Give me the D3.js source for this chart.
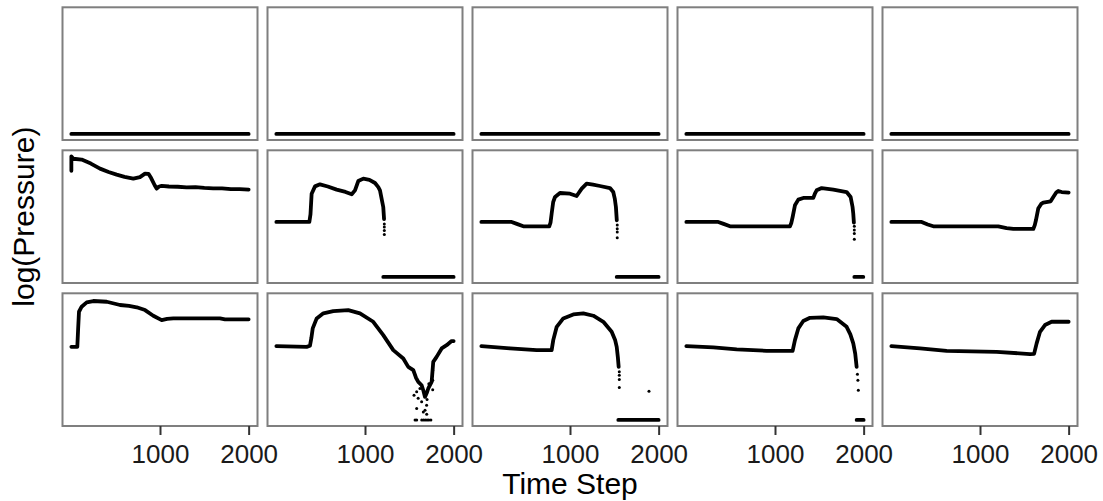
<!DOCTYPE html>
<html>
<head>
<meta charset="utf-8">
<script src="https://cdn.jsdelivr.net/npm/d3@7"></script>
<style>
  body { margin: 0; background: #fff; }
  svg { display: block; font-family: "Liberation Sans", Arial, sans-serif; }
</style>
</head>
<body>
<svg id="chart"></svg>
<script>
// x ticks shared by the bottom row
var timeTicks = [1000, 2000];

// flat "floor" value used by the empty top row and the collapsed tails
var fullFloor = [[0, 0], [2000, 0]];

// row 2 curves (time step, relative log pressure)
var r2c1 = [[0, 88], [0, 100], [22, 98], [116, 97.3], [220, 94], [323, 89.8], [420, 87], [511, 84.8],
    [600, 83], [699, 81.5], [774, 82.8], [831, 85.7], [870, 85.5], [900, 82], [940, 76], [962, 73.2],
    [990, 75], [1019, 75.5], [1100, 75], [1200, 74.8], [1300, 74.3], [1400, 74.5], [1500, 73.8],
    [1600, 73.5], [1700, 73.5], [1800, 72.8], [1900, 72.8], [2000, 72.4]];
var r2c2 = [[0, 45.6], [372, 45.6], [385, 52], [398, 69], [436, 75.1], [492, 76.8], [580, 75], [680, 72.4],
    [780, 70.5], [850, 68.5], [887, 71.8], [924, 79.5], [981, 81.5], [1050, 80.5], [1113, 77.9],
    [1150, 74.5], [1169, 71.8], [1190, 64], [1206, 58], [1215, 48]];
var r2c3 = [[0, 45.6], [342, 45.6], [400, 44], [473, 42], [766, 42], [780, 45], [793, 52.5], [810, 62],
    [831, 66.3], [887, 69.6], [1000, 69], [1075, 67.1], [1132, 73.2], [1188, 77.4], [1260, 76.5],
    [1338, 75.4], [1451, 73.7], [1488, 70.4], [1505, 65], [1518, 58], [1528, 47]];
var r2c4 = [[0, 45.6], [360, 45.6], [420, 44], [492, 42], [1169, 42], [1185, 45], [1199, 49.7], [1225, 59.4],
    [1263, 64.1], [1319, 65.5], [1432, 65.5], [1450, 69], [1470, 71.8], [1527, 73.7], [1658, 72.4],
    [1808, 70.4], [1853, 66.3], [1875, 58], [1883, 52.5], [1890, 45]];
var r2c5 = [[0, 45.6], [342, 45.6], [410, 43.5], [473, 42], [1206, 42], [1300, 40.5], [1376, 39.8],
    [1601, 39.8], [1618, 43], [1631, 47], [1657, 56.7], [1690, 60.5], [1714, 61.6], [1797, 62.7],
    [1827, 66.3], [1860, 70], [1883, 71.3], [1921, 70.4], [2000, 69.9]];

// row 3 curves
var r3c1 = [[0, 60.6], [67, 60.6], [76, 75], [86, 89.7], [116, 93.9], [173, 97.5], [248, 98.6], [399, 98],
    [549, 95.3], [650, 94.5], [737, 93.4], [831, 91.1], [924, 86.4], [1019, 82.8], [1080, 83.8],
    [1150, 84.2], [1677, 84.2], [1733, 83.4], [2000, 83.4]];
var r3c2 = [[0, 61.2], [342, 60.6], [379, 61.5], [395, 68], [410, 75.9], [455, 84.2], [530, 88.4],
    [642, 90.3], [811, 91.1], [943, 88.4], [1093, 81.4], [1206, 70.3], [1319, 57.9], [1432, 51],
    [1488, 44], [1545, 41.3], [1575, 35], [1601, 31.6], [1639, 28.8], [1660, 24], [1677, 19.1],
    [1700, 23], [1714, 26.1], [1752, 31.6], [1770, 48.2], [1808, 52.3], [1865, 59.3], [1921, 62],
    [1977, 65.4], [2000, 65.4]];
var r3c3 = [[0, 61.2], [323, 59.3], [624, 57.9], [793, 57.9], [811, 66.2], [850, 77.2], [924, 84.2],
    [1037, 87.5], [1150, 88.4], [1263, 86.4], [1376, 81.4], [1470, 73.1], [1510, 66], [1527, 60.6],
    [1540, 52], [1549, 44]];
var r3c4 = [[0, 61.2], [304, 60.1], [568, 58.5], [906, 57.3], [1199, 57.3], [1225, 66.2], [1263, 75.9],
    [1319, 82], [1395, 84.7], [1545, 85], [1696, 83.6], [1808, 77.2], [1850, 71], [1883, 63.5],
    [1905, 55], [1921, 44]];
var r3c5 = [[0, 61.2], [323, 59.3], [624, 57.3], [1188, 56.5], [1564, 54.6], [1610, 54.8], [1639, 63.5],
    [1677, 73.1], [1733, 78.7], [1808, 81.4], [2000, 81.4]];

// collapsed tails (floor segments)
var floorR2c2 = [[1206, 0], [2000, 0]];
var floorR2c3 = [[1527, 0], [2000, 0]];
var floorR2c4 = [[1895, 0], [1996, 0]];
var floorR3c3 = [[1545, 0], [2000, 0]];
var floorR3c4 = [[1921, 0], [2000, 0]];

// scattered points where the series drops off
var dotsR2c2 = [[1218, 44], [1218, 41.4], [1218, 38.5], [1218, 35.1]];
var dotsR2c3 = [[1533, 43], [1533, 40], [1533, 37.3], [1533, 32.6]];
var dotsR2c4 = [[1895, 42], [1895, 39], [1895, 36], [1895, 31.2]];
var dotsR3c2 = [[1553, 20.5], [1583, 9.5], [1583, 23.3], [1600, 18], [1620, 26], [1639, 15], [1658, 6.6],
    [1677, 8], [1696, 4.7], [1695, 12.2], [1700, 17], [1720, 30], [1764, 41], [1764, 33], [1764, 25],
    [1565, 0], [1583, 0], [1640, 0], [1660, 0], [1680, 0], [1700, 0], [1720, 0], [1743, 0]];
var dotsR3c3 = [[1556, 40], [1556, 37], [1556, 33.5], [1556, 26.9], [1891, 23.8]];
var dotsR3c4 = [[1930, 38], [1935, 33], [1940, 24.7]];

var panels = [
    { lines: [fullFloor], dots: [] },
    { lines: [fullFloor], dots: [] },
    { lines: [fullFloor], dots: [] },
    { lines: [fullFloor], dots: [] },
    { lines: [fullFloor], dots: [] },
    { lines: [r2c1], dots: [] },
    { lines: [r2c2, floorR2c2], dots: dotsR2c2 },
    { lines: [r2c3, floorR2c3], dots: dotsR2c3 },
    { lines: [r2c4, floorR2c4], dots: dotsR2c4 },
    { lines: [r2c5], dots: [] },
    { lines: [r3c1], dots: [] },
    { lines: [r3c2], dots: dotsR3c2 },
    { lines: [r3c3, floorR3c3], dots: dotsR3c3 },
    { lines: [r3c4, floorR3c4], dots: dotsR3c4 },
    { lines: [r3c5], dots: [] }
];

var width = 1103, height = 501;
var left0 = 62.5, top0 = 7.3;
var panelW = 195, panelH = 132.7;
var stepX = 205, stepY = 143;
var nCols = 5, nRows = 3;

var svg = d3.select('#chart').attr('width', width).attr('height', height);

var x = d3.scaleLinear().domain([-100, 2100]).range([0, panelW]);
var y = d3.scaleLinear().domain([-5, 105]).range([panelH, 0]);

var line = d3.line()
    .x(function(d) { return x(d[0]); })
    .y(function(d) { return y(d[1]); });

panels.forEach(function(p, i) {
    var col = i % nCols, row = Math.floor(i / nCols);
    var g = svg.append('g')
        .attr('transform', 'translate(' + (left0 + col * stepX) + ',' + (top0 + row * stepY) + ')');

    g.append('rect')
        .attr('width', panelW).attr('height', panelH)
        .attr('fill', '#fff');

    g.selectAll('.series')
        .data(p.lines)
        .enter()
        .append('path')
        .attr('class', 'series')
        .attr('d', line)
        .attr('fill', 'none')
        .attr('stroke', '#000')
        .attr('stroke-width', 3.8)
        .attr('stroke-linejoin', 'round')
        .attr('stroke-linecap', 'round');

    g.selectAll('.dot')
        .data(p.dots)
        .enter()
        .append('circle')
        .attr('class', 'dot')
        .attr('cx', function(d) { return x(d[0]); })
        .attr('cy', function(d) { return y(d[1]); })
        .attr('r', 1.5)
        .attr('fill', '#000');

    g.append('rect')
        .attr('width', panelW).attr('height', panelH)
        .attr('fill', 'none')
        .attr('stroke', '#7f7f7f')
        .attr('stroke-width', 2);

    if (row === nRows - 1) {
        var axis = d3.axisBottom(x)
            .tickValues(timeTicks)
            .tickFormat(d3.format('d'))
            .tickSize(9)
            .tickPadding(10);
        var ax = g.append('g')
            .attr('transform', 'translate(0,' + panelH + ')')
            .call(axis);
        ax.select('.domain').remove();
        ax.selectAll('line').attr('stroke', '#333').attr('stroke-width', 2);
        ax.selectAll('text')
            .attr('fill', '#1a1a1a')
            .style('font-size', '26px')
            .style('font-family', '"Liberation Sans", Arial, sans-serif');
    }
});

svg.append('text')
    .attr('x', (left0 + (nCols - 1) * stepX + panelW + left0) / 2)
    .attr('y', 494)
    .attr('text-anchor', 'middle')
    .style('font-size', '30px')
    .attr('fill', '#000')
    .text('Time Step');

svg.append('text')
    .attr('transform', 'translate(34,' + (top0 + (2 * stepY + panelH) / 2) + ') rotate(-90)')
    .attr('text-anchor', 'middle')
    .style('font-size', '30px')
    .attr('fill', '#000')
    .text('log(Pressure)');
</script>
</body>
</html>
